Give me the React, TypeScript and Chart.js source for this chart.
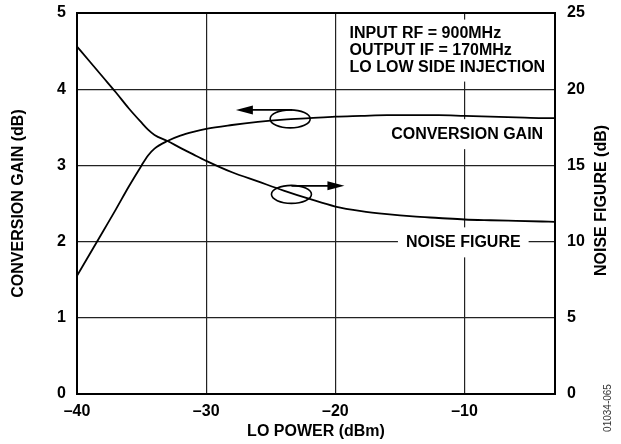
import React, { useEffect, useRef } from 'react';
import { Chart, registerables } from 'chart.js';

Chart.register(...registerables);

// ---- data ----
const loPower = [-40, -39, -38, -37, -36, -35, -34.5, -34, -33, -32, -31, -30, -28, -26, -24, -22, -20, -18, -16, -14, -12, -10, -8, -6, -4, -3];
const conversionGain = [1.55, 1.84, 2.13, 2.42, 2.72, 3.0, 3.13, 3.22, 3.32, 3.39, 3.44, 3.48, 3.53, 3.57, 3.6, 3.62, 3.64, 3.65, 3.66, 3.66, 3.66, 3.65, 3.64, 3.63, 3.62, 3.62];
const noiseFigure = [22.8, 21.8, 20.8, 19.8, 18.75, 17.8, 17.35, 17.0, 16.6, 16.15, 15.72, 15.3, 14.55, 13.95, 13.35, 12.8, 12.3, 12.0, 11.8, 11.65, 11.55, 11.45, 11.4, 11.36, 11.32, 11.3];
const xTicks = [-40, -30, -20, -10];
const gainTicks = [0, 1, 2, 3, 4, 5];
const nfTicks = [0, 5, 10, 15, 20, 25];
const conditions = ['INPUT RF = 900MHz', 'OUTPUT IF = 170MHz', 'LO LOW SIDE INJECTION'];
const gainLabel = 'CONVERSION GAIN';
const nfLabel = 'NOISE FIGURE';
const xTitle = 'LO POWER (dBm)';
const leftTitle = 'CONVERSION GAIN (dB)';
const rightTitle = 'NOISE FIGURE (dB)';
const figureId = '01034-065';

const FAMILY = "'Liberation Sans', Arial, Helvetica, sans-serif";
const BOLD16 = { family: FAMILY, size: 16, weight: 'bold' as const, lineHeight: 1.1 };

const fmt = (v: number) => (v < 0 ? '\u2013' + Math.abs(v) : String(v));

const annotations = {
  id: 'annotations',
  beforeDatasetsDraw(chart: any) {
    const { ctx, scales } = chart;
    const x = scales.x, yL = scales.yL, yR = scales.yR;
    ctx.save();
    ctx.font = `bold 16px ${FAMILY}`;
    ctx.fillStyle = '#000';
    ctx.textBaseline = 'middle';
    // conditions block
    const cx = x.getPixelForValue(-18.9);
    const cy0 = yR.getPixelForValue(23.65);
    const lh = 17;
    let maxW = 0;
    conditions.forEach((t) => (maxW = Math.max(maxW, ctx.measureText(t).width)));
    ctx.fillStyle = '#fff';
    ctx.fillRect(cx - 8, cy0 - 14, maxW + 12, lh * 2 + 28);
    ctx.fillStyle = '#000';
    ctx.textAlign = 'left';
    conditions.forEach((t, i) => ctx.fillText(t, cx, cy0 + i * lh));
    // series labels
    const drawBoxed = (t: string, px: number, py: number, padX: number) => {
      const w = ctx.measureText(t).width;
      ctx.fillStyle = '#fff';
      ctx.fillRect(px - w / 2 - padX, py - 15, w + padX * 2, 30);
      ctx.fillStyle = '#000';
      ctx.textAlign = 'center';
      ctx.fillText(t, px, py);
    };
    drawBoxed(gainLabel, x.getPixelForValue(-9.8), yL.getPixelForValue(3.41), 6);
    drawBoxed(nfLabel, x.getPixelForValue(-10.1), yR.getPixelForValue(9.95), 8);
    ctx.restore();
  },
  afterDatasetsDraw(chart: any) {
    const { ctx, chartArea, scales } = chart;
    const x = scales.x, yL = scales.yL, yR = scales.yR;
    ctx.save();
    ctx.strokeStyle = '#000';
    ctx.fillStyle = '#000';
    ctx.lineWidth = 1.6;
    const ellipse = (px: number, py: number) => {
      ctx.beginPath();
      ctx.ellipse(px, py, 20, 9, 0, 0, Math.PI * 2);
      ctx.stroke();
    };
    const arrow = (x0: number, x1: number, py: number) => {
      const dir = Math.sign(x1 - x0);
      ctx.beginPath();
      ctx.moveTo(x0, py);
      ctx.lineTo(x1 - dir * 14, py);
      ctx.stroke();
      ctx.beginPath();
      ctx.moveTo(x1, py);
      ctx.lineTo(x1 - dir * 17, py - 4.5);
      ctx.lineTo(x1 - dir * 17, py + 4.5);
      ctx.closePath();
      ctx.fill();
    };
    // gain marker (points left)
    const gx = x.getPixelForValue(-23.5);
    const gy = yL.getPixelForValue(3.61);
    ellipse(gx, gy);
    arrow(gx + 2, x.getPixelForValue(-27.7), gy - 9);
    // NF marker (points right)
    const nx = x.getPixelForValue(-23.4);
    const ny = yR.getPixelForValue(13.1);
    ellipse(nx, ny);
    arrow(nx, x.getPixelForValue(-19.3), ny - 8.5);
    // frame
    ctx.lineWidth = 2;
    ctx.strokeRect(chartArea.left, chartArea.top, chartArea.right - chartArea.left, chartArea.bottom - chartArea.top);
    // right title
    ctx.font = `bold 16px ${FAMILY}`;
    ctx.textAlign = 'center';
    ctx.textBaseline = 'middle';
    ctx.save();
    ctx.translate(602, (chartArea.top + chartArea.bottom) / 2 - 3);
    ctx.rotate(-Math.PI / 2);
    ctx.fillText(rightTitle, 0, 0);
    ctx.restore();
    // figure id
    ctx.font = `10px ${FAMILY}`;
    ctx.fillStyle = '#333';
    ctx.save();
    ctx.translate(608, 408);
    ctx.rotate(-Math.PI / 2);
    ctx.fillText(figureId, 0, 0);
    ctx.restore();
    ctx.restore();
  },
};

const noPad = (s: any) => {
  s.paddingTop = 0;
  s.paddingBottom = 0;
};

export default function App() {
  const ref = useRef<HTMLCanvasElement>(null);
  useEffect(() => {
    document.body.style.margin = '0';
    const canvas = ref.current;
    if (!canvas) return;
    const lineStyle = {
      borderColor: '#000',
      borderWidth: 1.8,
      pointRadius: 0,
      fill: false,
      cubicInterpolationMode: 'monotone' as const,
    };
    const chart = new Chart(canvas, {
      type: 'line',
      data: {
        datasets: [
          { ...lineStyle, label: 'Conversion Gain', yAxisID: 'yL', data: loPower.map((v, i) => ({ x: v, y: conversionGain[i] })) },
          { ...lineStyle, label: 'Noise Figure', yAxisID: 'yR', data: loPower.map((v, i) => ({ x: v, y: noiseFigure[i] })) },
        ],
      },
      options: {
        animation: false,
        responsive: false,
        devicePixelRatio: 1,
        layout: { padding: { top: 13, left: 0, right: 0, bottom: 0 } },
        plugins: { legend: { display: false }, tooltip: { enabled: false } },
        scales: {
          x: {
            type: 'linear',
            min: -40,
            max: -3,
            afterBuildTicks: (s: any) => { s.ticks = xTicks.map((v) => ({ value: v })); },
            afterFit: (s: any) => { s.height = 50; s.paddingLeft = 0; s.paddingRight = 0; },
            ticks: { callback: (v: any) => fmt(Number(v)), font: BOLD16, color: '#000', padding: 9, maxRotation: 0, autoSkip: false },
            grid: { color: '#222', lineWidth: 1.2, drawTicks: false },
            border: { display: false },
            title: { display: true, text: xTitle, font: BOLD16, color: '#000', padding: { top: 0, bottom: 4 } },
          },
          yL: {
            type: 'linear',
            position: 'left',
            min: 0,
            max: 5,
            afterBuildTicks: (s: any) => { s.ticks = gainTicks.map((v) => ({ value: v })); },
            afterFit: (s: any) => { s.width = 77; noPad(s); },
            ticks: { font: BOLD16, color: '#000', padding: 11 },
            grid: { color: '#222', lineWidth: 1.2, drawTicks: false },
            border: { display: false },
            title: { display: true, text: leftTitle, font: BOLD16, color: '#000', padding: { top: 10, bottom: 0 } },
          },
          yR: {
            type: 'linear',
            position: 'right',
            min: 0,
            max: 25,
            afterBuildTicks: (s: any) => { s.ticks = nfTicks.map((v) => ({ value: v })); },
            afterFit: (s: any) => { s.width = 66; noPad(s); },
            ticks: { font: BOLD16, color: '#000', padding: 12 },
            grid: { display: false, drawTicks: false },
            border: { display: false },
          },
        },
      } as any,
      plugins: [annotations],
    });
    return () => chart.destroy();
  }, []);
  return (
    <div style={{ position: 'absolute', left: 0, top: 0, width: 621, height: 444, background: '#fff' }}>
      <canvas ref={ref} width={621} height={444} style={{ width: 621, height: 444, display: 'block' }} />
    </div>
  );
}
